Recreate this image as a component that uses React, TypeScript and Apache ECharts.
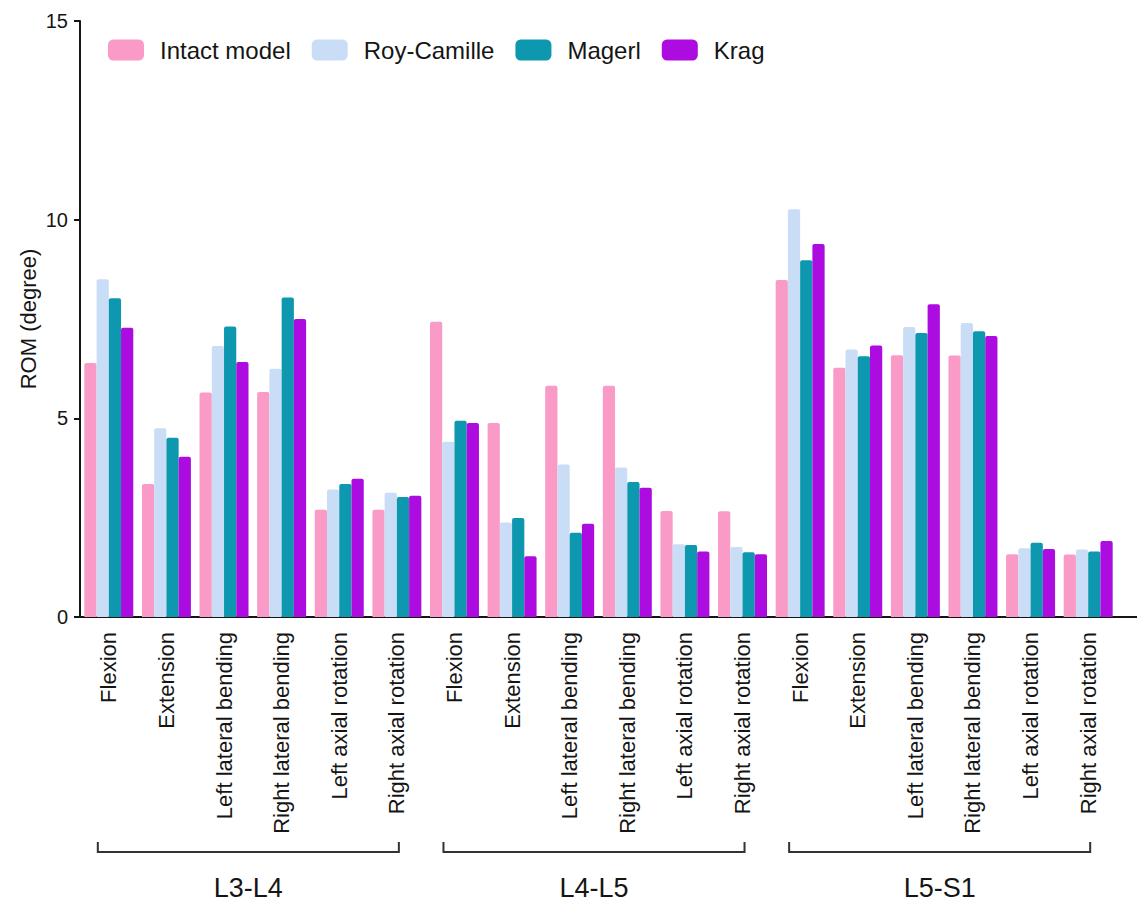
import React, { useEffect, useRef } from "react";
import * as echarts from "echarts";

// Spinal segments and the loading directions tested at each one
const segments = ["L3-L4", "L4-L5", "L5-S1"];
const movements = [
  "Flexion",
  "Extension",
  "Left lateral bending",
  "Right lateral bending",
  "Left axial rotation",
  "Right axial rotation",
];
const categories = segments.flatMap(() => movements);

const seriesNames = ["Intact model", "Roy-Camille", "Magerl", "Krag"];
const seriesColors = ["#F99AC7", "#C9DEF6", "#0E98B0", "#AC0CE0"];

// Range of motion (degree), ordered segment by segment
const intactModel = [6.39, 3.35, 5.65, 5.66, 2.7, 2.7, 7.43, 4.88, 5.82, 5.82, 2.67, 2.66, 8.48, 6.27, 6.59, 6.58, 1.58, 1.57];
const royCamille = [8.5, 4.75, 6.82, 6.25, 3.21, 3.13, 4.41, 2.38, 3.84, 3.76, 1.83, 1.76, 10.26, 6.73, 7.3, 7.4, 1.73, 1.7];
const magerl = [8.02, 4.51, 7.31, 8.04, 3.35, 3.02, 4.94, 2.49, 2.12, 3.4, 1.81, 1.63, 8.98, 6.56, 7.15, 7.19, 1.87, 1.65];
const krag = [7.28, 4.03, 6.42, 7.5, 3.48, 3.05, 4.88, 1.53, 2.35, 3.25, 1.65, 1.58, 9.39, 6.83, 7.87, 7.07, 1.71, 1.91];
const seriesData = [intactModel, royCamille, magerl, krag];

const yTicks = [0, 5, 10, 15];

const FONT = "'Liberation Sans', Arial, Helvetica, sans-serif";
const INK = "#151515";

export default function App() {
  const ref = useRef<HTMLDivElement>(null);

  useEffect(() => {
    if (!ref.current) return;
    const chart = echarts.init(ref.current, undefined, { renderer: "svg" });

    chart.setOption({
      animation: false,
      backgroundColor: "#ffffff",
      textStyle: { fontFamily: FONT },
      legend: {
        left: 108,
        top: 38,
        padding: 0,
        itemWidth: 36,
        itemHeight: 21,
        itemGap: 21,
        icon: "roundRect",
        data: seriesNames,
        textStyle: {
          fontFamily: FONT,
          fontSize: 24,
          color: INK,
          padding: [0, 0, 0, 11],
        },
      },
      grid: { left: 80, top: 21, width: 1037, height: 596, containLabel: false },
      xAxis: {
        type: "category",
        data: categories,
        axisLine: { lineStyle: { color: INK, width: 2 } },
        axisTick: { alignWithLabel: true, length: 8, lineStyle: { color: INK, width: 2 } },
        axisLabel: {
          rotate: 90,
          interval: 0,
          margin: 15,
          fontSize: 22,
          color: INK,
          fontFamily: FONT,
        },
      },
      yAxis: {
        type: "value",
        min: yTicks[0],
        max: yTicks[yTicks.length - 1],
        interval: 5,
        name: "ROM (degree)",
        nameLocation: "middle",
        nameGap: 41,
        nameMoveOverlap: false,
        nameTextStyle: { fontSize: 22, color: INK, fontFamily: FONT },
        axisLine: { show: true, lineStyle: { color: INK, width: 2 } },
        axisTick: { show: true, length: 6, lineStyle: { color: INK, width: 2 } },
        axisLabel: { margin: 12, fontSize: 20, color: INK, fontFamily: FONT },
        splitLine: { show: false },
      },
      series: seriesNames.map((name, i) => ({
        name,
        type: "bar",
        data: seriesData[i],
        barGap: "0%",
        barCategoryGap: "15%",
        itemStyle: { color: seriesColors[i], borderRadius: [2, 2, 0, 0] },
      })),
    });

    // Segment brackets under the movement labels, positioned from the category scale
    const per = movements.length;
    const graphics: any[] = [];
    const bracketY = 852;
    segments.forEach((seg, s) => {
      const x0 = chart.convertToPixel({ xAxisIndex: 0 }, s * per) as number;
      const x1 = chart.convertToPixel({ xAxisIndex: 0 }, s * per + per - 1) as number;
      const left = x0 - 11;
      const right = x1 + 2;
      graphics.push({
        type: "polyline",
        shape: {
          points: [
            [left, bracketY - 10],
            [left, bracketY],
            [right, bracketY],
            [right, bracketY - 10],
          ],
        },
        style: { stroke: "#333333", lineWidth: 2, fill: "none" },
      });
      graphics.push({
        type: "text",
        x: (left + right) / 2,
        y: 888,
        style: {
          text: seg,
          fontSize: 27,
          fontFamily: FONT,
          fill: INK,
          align: "center",
          verticalAlign: "middle",
        },
      });
    });

    // The baseline runs a little past the last category
    const baseY = chart.convertToPixel({ yAxisIndex: 0 }, 0) as number;
    const lastX = chart.convertToPixel({ xAxisIndex: 0 }, categories.length - 1) as number;
    const step = lastX - (chart.convertToPixel({ xAxisIndex: 0 }, categories.length - 2) as number);
    graphics.push({
      type: "line",
      shape: { x1: lastX + step / 2 - 1, y1: baseY, x2: lastX + step / 2 + 20, y2: baseY },
      style: { stroke: INK, lineWidth: 2 },
    });

    chart.setOption({ graphic: graphics });

    return () => chart.dispose();
  }, []);

  return (
    <div
      ref={ref}
      style={{ position: "absolute", left: 0, top: 0, width: 1144, height: 902, background: "#fff" }}
    />
  );
}
